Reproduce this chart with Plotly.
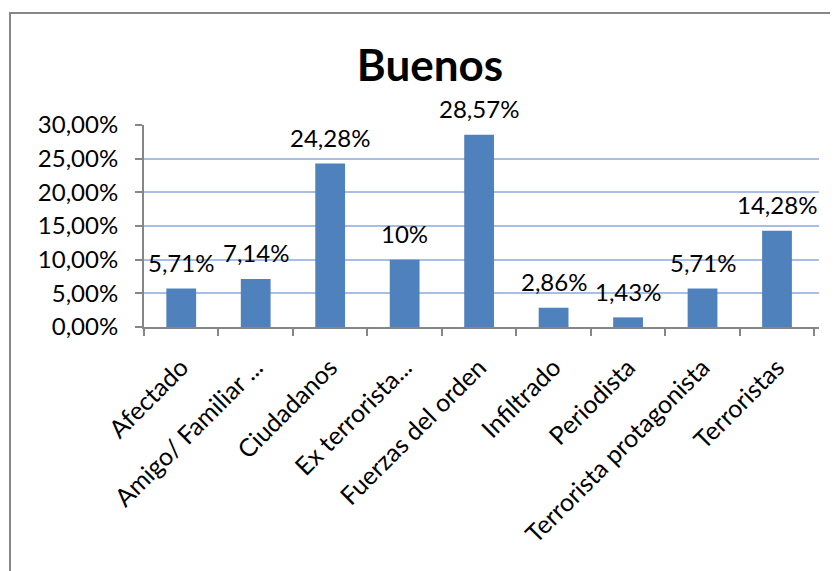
import plotly.graph_objects as go

categories = ["Afectado", "Amigo/ Familiar ...", "Ciudadanos", "Ex terrorista...",
              "Fuerzas del orden", "Infiltrado", "Periodista",
              "Terrorista protagonista", "Terroristas"]
values = [5.71, 7.14, 24.28, 10.0, 28.57, 2.86, 1.43, 5.71, 14.28]
value_labels = ["5,71%", "7,14%", "24,28%", "10%", "28,57%", "2,86%", "1,43%", "5,71%", "14,28%"]
y_ticks = [0, 5, 10, 15, 20, 25, 30]
y_tick_labels = ["0,00%", "5,00%", "10,00%", "15,00%", "20,00%", "25,00%", "30,00%"]

FONT = "Lato, 'Open Sans', sans-serif"

fig = go.Figure(go.Bar(
    x=categories, y=values, marker=dict(color="#4f81bd", line=dict(width=0)),
    hoverinfo="skip",
))

for c, v, t in zip(categories, values, value_labels):
    fig.add_annotation(x=c, y=v, text=t, showarrow=False, yanchor="middle",
                       yshift=26, font=dict(size=24, color="#000000", family=FONT))

# page body has an 8px margin; figure is offset by that amount
OFF = 8
W, H = 838 - OFF, 571 - OFF
# target plot area in screen pixels: x 144..819, y 125..327
L, R, T, B = 144 - OFF, 838 - 819, 125 - OFF, 571 - 327
pw, ph = W - L - R, H - T - B

def px_x(px):
    return (px - 144) / pw

def px_y(py):
    return (327 - py) / ph

fig.add_shape(type="rect", xref="paper", yref="paper",
              x0=px_x(10), x1=px_x(836), y0=px_y(580), y1=px_y(13),
              line=dict(color="#878787", width=2), layer="below")

fig.update_layout(
    width=W, height=H,
    margin=dict(l=L, r=R, t=T, b=B, autoexpand=False),
    paper_bgcolor="white", plot_bgcolor="white",
    bargap=0.6, showlegend=False,
    font=dict(family=FONT, size=24, color="#000000"),
    title=dict(text="<b>Buenos</b>", x=px_x(430), xref="paper", xanchor="center",
               y=1 - (66 - OFF) / H, yanchor="middle",
               font=dict(size=44, family=FONT, color="#000000")),
    xaxis=dict(type="category", showline=True, linecolor="#868686", linewidth=2,
               ticks="outside", tickson="boundaries", ticklen=7, tickcolor="#868686",
               tickwidth=2, tickangle=-45, showgrid=False, ticklabelstandoff=14,
               tickfont=dict(size=25, family=FONT)),
    yaxis=dict(range=[0, 30], tickvals=y_ticks, ticktext=y_tick_labels,
               showline=True, linecolor="#868686", linewidth=2,
               ticks="outside", ticklen=7, tickcolor="#868686", tickwidth=2,
               ticklabelstandoff=12,
               showgrid=True, gridcolor="#a7bfe6", gridwidth=2, zeroline=False,
               tickfont=dict(size=24, family=FONT)),
)

fig.write_html("out.html")
